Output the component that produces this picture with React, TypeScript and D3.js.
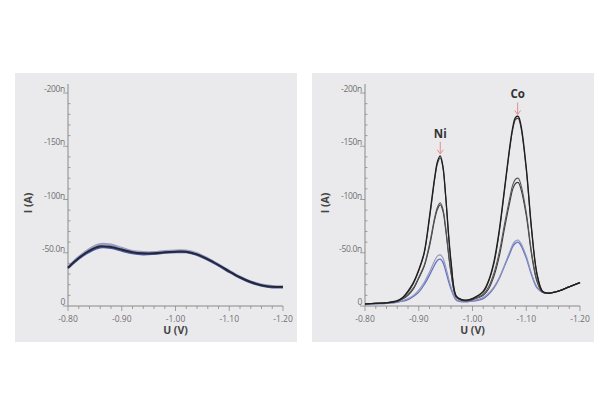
import React, { useEffect, useRef } from 'react';
import * as d3 from 'd3';

// potentials (V) and currents (nA, plotted as negative currents)
const leftU = [-0.8, -0.82, -0.84, -0.86, -0.88, -0.9, -0.92, -0.94, -0.96, -0.98, -1.0,
  -1.02, -1.04, -1.06, -1.08, -1.1, -1.12, -1.14, -1.16, -1.18, -1.2];
const leftUpper = [36.5, 46, 53.5, 58, 57.5, 54.5, 51.5, 50.5, 50.5, 51.5, 52, 52, 49.5, 44.5, 39, 33, 27.5, 23, 20, 18.5, 18];
const leftBlack = [36, 45, 52, 56, 55.5, 53, 50.5, 49.5, 49.5, 50.5, 51, 51, 48.5, 44, 38.5, 32.5, 27, 22.5, 19.5, 18, 18];
const leftBlue = [35.5, 44.5, 51, 55, 54.5, 52, 49.5, 48.5, 49, 50, 50.5, 50.5, 48, 43.5, 38, 32, 26.5, 22, 19, 17.5, 17.5];

const rightU = [-0.8, -0.82, -0.84, -0.86, -0.87, -0.88, -0.89, -0.9, -0.91, -0.92, -0.93, -0.935,
  -0.94, -0.945, -0.95, -0.96, -0.97, -0.98, -0.99, -1.0, -1.02, -1.03, -1.04, -1.05, -1.06, -1.07,
  -1.075, -1.08, -1.085, -1.09, -1.1, -1.11, -1.12, -1.13, -1.14, -1.16, -1.18, -1.2];
const rightTopA = [2, 2.5, 3, 5, 8, 14, 22, 34, 50, 84, 122, 136, 141, 131, 104, 42, 9, 6, 5.5, 7,
  14, 24, 42, 72, 112, 152, 168, 177, 178, 170, 130, 72, 30, 14, 12, 14, 18, 22];
const rightTopB = [2, 2.5, 3, 4.5, 7.5, 13, 21, 33, 49, 82, 120, 134, 139, 130, 103, 41, 9, 6, 5.5, 7,
  13, 23, 40, 70, 110, 150, 166, 175, 176, 168, 128, 71, 30, 14, 12, 14, 18, 22];
const rightMidA = [2, 2.5, 3, 4.5, 7, 11, 17, 27, 38, 58, 84, 93, 97, 91, 74, 32, 8, 5.5, 5, 6.5,
  11, 18, 31, 51, 78, 103, 114, 119, 120, 114, 88, 50, 24, 13, 12, 14, 18, 22];
const rightMidB = [2, 2.5, 3, 4.5, 6.5, 10, 16, 26, 37, 56, 82, 91, 95, 89, 72, 31, 8, 5.5, 5, 6,
  10, 16, 28, 47, 74, 99, 110, 115, 116, 110, 85, 48, 23, 13, 12, 14, 18, 22];
const rightGray = [1.5, 2, 2.5, 3.5, 5, 7, 10, 15, 22, 32, 43, 47, 48, 45, 37, 18, 6, 4.5, 4.5, 5,
  8, 12, 18, 27, 39, 52, 58, 61, 62, 59, 47, 30, 18, 13, 12, 14, 18, 22];
const rightBlue = [1.5, 2, 2.5, 3.5, 4.5, 6, 9, 13, 20, 29, 39, 43, 44, 41, 33, 16, 5.5, 4, 4, 4.5,
  7, 11, 17, 26, 38, 50, 56, 59, 60, 57, 45, 29, 17, 13, 12, 14, 18, 22];

const yTicks = [0, -50, -100, -150, -200];
const yTickLabels = ['0', '-50.0n', '-100n', '-150n', '-200n'];
const xTicks = [-0.8, -0.9, -1.0, -1.1, -1.2];
const xTickLabels = ['-0.80', '-0.90', '-1.00', '-1.10', '-1.20'];

const peakLabels = [
  { name: 'Ni', u: -0.94, top: 141 },
  { name: 'Co', u: -1.084, top: 178 }
];

type Series = { values: number[]; color: string; width: number };

function Panel({ x0, u, series, peaks }: { x0: number; u: number[]; series: Series[]; peaks: typeof peakLabels }) {
  const ref = useRef<SVGGElement>(null);

  useEffect(() => {
    const g = d3.select(ref.current);
    g.selectAll('*').remove();

    g.append('rect')
      .attr('x', x0).attr('y', 73)
      .attr('width', 282).attr('height', 269)
      .attr('fill', '#eaeaec');

    const x = d3.scaleLinear().domain([-0.8, -1.2]).range([x0 + 53, x0 + 268]);
    const y = d3.scaleLinear().domain([0, -200]).range([306, 93]);

    const axisColor = '#8a8a8a';
    const textColor = '#707070';

    // y axis
    g.append('line')
      .attr('x1', x(-0.8)).attr('x2', x(-0.8))
      .attr('y1', y(0)).attr('y2', 84)
      .attr('stroke', axisColor).attr('stroke-width', 1);
    g.selectAll('.ymin')
      .data(d3.range(0, -201, -10))
      .enter().append('line')
      .attr('x1', x(-0.8)).attr('x2', (d) => x(-0.8) + (d % 50 === 0 ? -5 : 2.5))
      .attr('y1', (d) => y(d)).attr('y2', (d) => y(d))
      .attr('stroke', axisColor).attr('stroke-width', 0.8);
    g.selectAll('.ylab')
      .data(yTicks)
      .enter().append('text')
      .attr('x', x(-0.8) - 3)
      .attr('y', (d) => y(d) - 1)
      .attr('text-anchor', 'end')
      .style('font-family', 'Open Sans, sans-serif')
      .style('font-size', '8.5px')
      .style('letter-spacing', '-0.3px')
      .attr('fill', textColor)
      .text((d, i) => yTickLabels[i]);

    // x axis
    g.append('line')
      .attr('x1', x(-0.8)).attr('x2', x(-1.2))
      .attr('y1', y(0)).attr('y2', y(0))
      .attr('stroke', axisColor).attr('stroke-width', 1);
    g.selectAll('.xmin')
      .data(d3.range(0, 21))
      .enter().append('line')
      .attr('x1', (i) => x(-0.8 - i * 0.02)).attr('x2', (i) => x(-0.8 - i * 0.02))
      .attr('y1', y(0)).attr('y2', (i) => y(0) + (i % 5 === 0 ? 5 : 3))
      .attr('stroke', axisColor).attr('stroke-width', 0.8);
    g.selectAll('.xlab')
      .data(xTicks)
      .enter().append('text')
      .attr('x', (d) => x(d))
      .attr('y', y(0) + 16)
      .attr('text-anchor', 'middle')
      .style('font-family', 'Open Sans, sans-serif')
      .style('font-size', '8.5px')
      .attr('fill', textColor)
      .text((d, i) => xTickLabels[i]);

    // axis titles
    g.append('text')
      .attr('x', (x(-0.8) + x(-1.2)) / 2)
      .attr('y', y(0) + 28)
      .attr('text-anchor', 'middle')
      .style('font-family', 'Open Sans, sans-serif')
      .style('font-size', '10.5px').style('font-weight', 'bold')
      .attr('fill', '#444')
      .text('U (V)');
    g.append('text')
      .attr('transform', `translate(${x0 + 17}, 203) rotate(-90)`)
      .attr('text-anchor', 'middle')
      .style('font-family', 'Open Sans, sans-serif')
      .style('font-size', '10.5px').style('font-weight', 'bold')
      .attr('fill', '#444')
      .text('I (A)');

    const line = d3.line<number>()
      .x((d, i) => x(u[i]))
      .y((d) => y(-d))
      .curve(d3.curveCatmullRom.alpha(0.5));

    series.forEach((s) => {
      g.append('path')
        .attr('d', line(s.values))
        .attr('fill', 'none')
        .attr('stroke', s.color)
        .attr('stroke-width', s.width)
        .attr('stroke-linejoin', 'round');
    });

    peaks.forEach((p) => {
      const px = x(p.u);
      const py = y(-p.top);
      g.append('text')
        .attr('x', px).attr('y', py - 18)
        .attr('text-anchor', 'middle')
        .style('font-family', 'Open Sans, sans-serif')
        .style('font-size', '11.5px').style('font-weight', 'bold')
        .attr('fill', '#333')
        .text(p.name);
      g.append('line')
        .attr('x1', px).attr('x2', px)
        .attr('y1', py - 14).attr('y2', py - 2)
        .attr('stroke', '#e58c8c').attr('stroke-width', 1);
      g.append('path')
        .attr('d', `M${px - 3},${py - 6} L${px},${py - 2} L${px + 3},${py - 6}`)
        .attr('fill', 'none')
        .attr('stroke', '#e58c8c').attr('stroke-width', 1);
    });
  }, [x0, u, series, peaks]);

  return <g ref={ref} />;
}

const leftSeries: Series[] = [
  { values: leftUpper, color: '#9aa0c4', width: 2.4 },
  { values: leftBlue, color: '#4b5aa8', width: 2.2 },
  { values: leftBlack, color: '#262838', width: 2 }
];

const rightSeries: Series[] = [
  { values: rightBlue, color: '#6472c8', width: 1.3 },
  { values: rightGray, color: '#9096b8', width: 1.1 },
  { values: rightMidB, color: '#3a3a3a', width: 1.1 },
  { values: rightMidA, color: '#555', width: 1.1 },
  { values: rightTopB, color: '#444', width: 1.1 },
  { values: rightTopA, color: '#1e1e1e', width: 1.3 }
];

export default function App() {
  return (
    <svg width={600} height={378} style={{ display: 'block' }}>
      <g transform="translate(-8,-8)">
        <rect x={0} y={0} width={616} height={394} fill="#fff" />
        <Panel x0={15} u={leftU} series={leftSeries} peaks={[]} />
        <Panel x0={312} u={rightU} series={rightSeries} peaks={peakLabels} />
      </g>
    </svg>
  );
}
